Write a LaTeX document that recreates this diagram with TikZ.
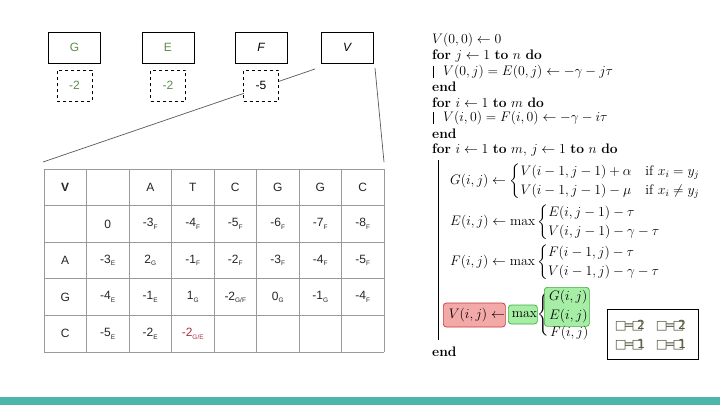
\RequirePackage{fix-cm}
\documentclass[tikz,border=0pt]{standalone}
\usepackage{amsmath}
\usepackage{fontspec}
\setsansfont{Liberation Sans}
\newfontfamily\dejavu{DejaVu Sans}
\definecolor{gtxt}{HTML}{5E8C4E}
\definecolor{bar}{HTML}{4DB6AC}
\definecolor{gridc}{HTML}{9A9A9A}
\definecolor{redfill}{HTML}{F4A9A9}
\definecolor{redline}{HTML}{C8383C}
\definecolor{grnfill}{HTML}{A6EDA6}
\definecolor{grnline}{HTML}{3FAF3F}
\definecolor{glyph}{HTML}{55553F}
\definecolor{redtxt}{HTML}{A83244}
\newcommand\subx[1]{\raisebox{-2.5pt}{\fontsize{6.5}{7}\selectfont #1}}
\newcommand\glyphs[1]{{\dejavu □\kern-0.22em=\kern-0.22em□\kern-0.5em#1}}
\tikzset{
  topbox/.style={draw, line width=0.9pt, minimum width=52pt, minimum height=31pt, inner sep=0pt, font=\sffamily\fontsize{12}{14}\selectfont},
  dashbox/.style={draw, dashed, line width=0.8pt, minimum width=35pt, minimum height=31pt, inner sep=0pt, font=\sffamily\fontsize{12}{14}\selectfont},
  celltxt/.style={inner sep=0pt, font=\sffamily\fontsize{12}{14}\selectfont, text=black!85},
  gridline/.style={draw=gridc, line width=0.7pt},
  alg/.style={anchor=west, inner sep=0pt, font=\fontsize{13.8}{15.7}\selectfont},
  zoomline/.style={draw=black!65, line width=0.7pt},
  redbox/.style={draw=redline, fill=redfill, rounded corners=3pt, line width=0.7pt},
  grnbox/.style={draw=grnline, fill=grnfill, rounded corners=3pt, line width=0.7pt},
  glyphtxt/.style={inner sep=0pt, text=glyph, font=\fontsize{12.5}{14}\selectfont}
}
\begin{document}
\begin{tikzpicture}[x=1pt, y=-1pt]
\useasboundingbox (0,0) rectangle (720,405);
\fill[white] (0,0) rectangle (720,405);
\fill[bar] (0,397) rectangle (720,405);

% zoom lines
\coordinate (tl) at (43,162);
\coordinate (tr) at (384,162);
\coordinate (vs1) at (315,69);
\coordinate (vs2) at (375,68);
\draw[zoomline] (vs1) -- (tl);
\draw[zoomline] (vs2) -- (tr);

% top boxes
\node[topbox, text=gtxt] (bG) at (74.5,47.5) {G};
\node[topbox, text=gtxt] (bE) at (168,47.5) {E};
\node[topbox] (bF) at (261,47.5) {\itshape F};
\node[topbox] (bV) at (347,47.5) {\itshape V};
\node[dashbox, fill=white, text=gtxt] (dG) at (74.5,85.5) {-2};
\node[dashbox, fill=white, text=gtxt] (dE) at (168,85.5) {-2};
\node[dashbox, fill=white] (dF) at (261,85.5) {-5};

% table grid
\foreach \i in {0,...,8} \draw[gridline] ({44+\i*42.5},169) -- ({44+\i*42.5},352);
\foreach \j in {0,...,5} \draw[gridline] (44,{169+\j*36.6}) -- (384,{169+\j*36.6});
% table text
\node[celltxt, font=\sffamily\bfseries\fontsize{12}{14}\selectfont] (c-0-0) at (65.25,187.3) {V};
\foreach \t [count=\c from 2] in {A,T,C,G,G,C}
  \node[celltxt] (c-0-\c) at ({44+42.5*(\c+0.5)},187.3) {\t};
\foreach \t [count=\c from 1] in {0,-3\subx{F},-4\subx{F},-5\subx{F},-6\subx{F},-7\subx{F},-8\subx{F}}
  \node[celltxt] (c-1-\c) at ({44+42.5*(\c+0.5)},223.9) {\t};
\foreach \t [count=\c from 0] in {A,-3\subx{E},2\subx{G},-1\subx{F},-2\subx{F},-3\subx{F},-4\subx{F},-5\subx{F}}
  \node[celltxt] (c-2-\c) at ({44+42.5*(\c+0.5)},260.5) {\t};
\foreach \t [count=\c from 0] in {G,-4\subx{E},-1\subx{E},1\subx{G},-2\subx{G/F},0\subx{G},-1\subx{G},-4\subx{F}}
  \node[celltxt] (c-3-\c) at ({44+42.5*(\c+0.5)},297.1) {\t};
\foreach \t [count=\c from 0] in {C,-5\subx{E},-2\subx{E}}
  \node[celltxt] (c-4-\c) at ({44+42.5*(\c+0.5)},333.7) {\t};
\node[celltxt, text=redtxt] (c-4-3) at ({44+42.5*3.5},333.7) {-2\subx{G/E}};

% algorithm
\node[alg] (a1) at (432,40) {$V(0,0) \leftarrow 0$};
\node[alg] (a2) at (432,56) {\textbf{for} $j \leftarrow 1$ \textbf{to} $n$ \textbf{do}};
\draw (433,66) -- (433,78);
\node[alg] (a3) at (443,72) {$V(0,j) = E(0,j) \leftarrow -\gamma - j\tau$};
\node[alg] (a4) at (432,87) {\textbf{end}};
\node[alg] (a5) at (432,103) {\textbf{for} $i \leftarrow 1$ \textbf{to} $m$ \textbf{do}};
\draw (433,112) -- (433,124);
\node[alg] (a6) at (443,118) {$V(i,0) = F(i,0) \leftarrow -\gamma - i\tau$};
\node[alg] (a7) at (432,134) {\textbf{end}};
\node[alg] (a8) at (432,150) {\textbf{for} $i \leftarrow 1$ \textbf{to} $m$, $j \leftarrow 1$ \textbf{to} $n$ \textbf{do}};
\draw (438,160) -- (438,340);
\node[alg] (ag) at (450,181) {$G(i,j) \leftarrow \begin{cases} V(i-1,j-1)+\alpha & \text{if } x_i = y_j\\ V(i-1,j-1)-\mu & \text{if } x_i \neq y_j\end{cases}$};
\node[alg] (ae) at (450,222) {$E(i,j) \leftarrow \max\begin{cases} E(i,j-1)-\tau\\ V(i,j-1)-\gamma-\tau\end{cases}$};
\node[alg] (af) at (450,262) {$F(i,j) \leftarrow \max\begin{cases} F(i-1,j)-\tau\\ V(i-1,j)-\gamma-\tau\end{cases}$};

\node[redbox, alg, minimum width=62pt, minimum height=24pt] (av) at (443,315) {\hspace{5pt}$V(i,j) \leftarrow$};
\node[grnbox, alg, minimum width=29pt, minimum height=19pt] (amax) at (508,314.5) {\hspace{3pt}$\max$};
\node[alg] (abrace) at (537.5,314) {$\left\{\rule{0pt}{27pt}\right.$};
\node[grnbox, anchor=north west, minimum width=45pt, minimum height=39pt, inner sep=0pt, font=\fontsize{13.8}{19}\selectfont, align=left] (age) at (544,287) {\hspace{3pt}$G(i,j)$\\\hspace{3pt}$E(i,j)$};
\node[alg] (afij) at (550,333) {$F(i,j)$};
\node[alg] (a9) at (432,352) {\textbf{end}};

% glyph box
\draw[line width=0.9pt] (607,309) rectangle (698,359);
\node[glyphtxt] (g1) at (630,326) {\glyphs{2}};
\node[glyphtxt] (g2) at (671,326) {\glyphs{2}};
\node[glyphtxt] (g3) at (630,345) {\glyphs{1}};
\node[glyphtxt] (g4) at (671,345) {\glyphs{1}};
\end{tikzpicture}
\end{document}
